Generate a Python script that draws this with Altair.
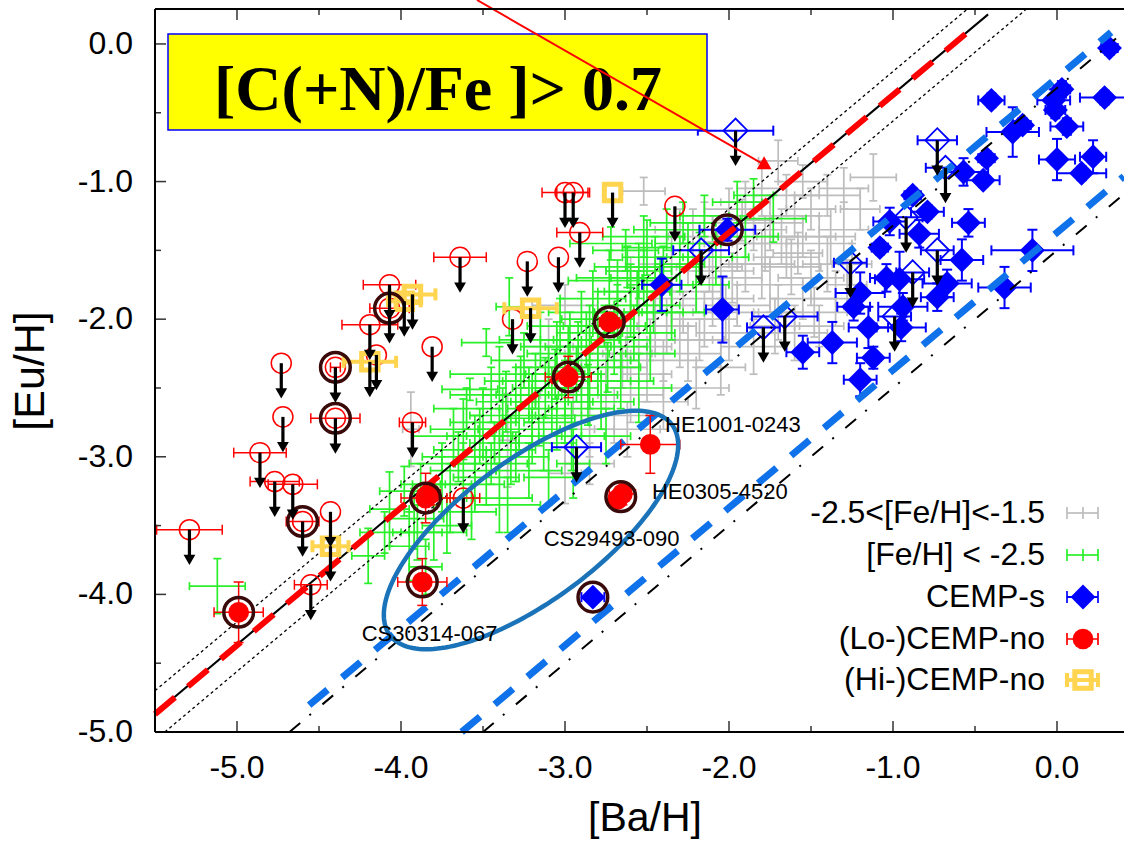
import altair as alt
import pandas as pd
import numpy as np

# ---------------- data ----------------
# (x=[Ba/H], y=[Eu/H], xerr, yerr)
GRAY_POINTS = [
    (-1.12, -0.97, 0.14, 0.17), (-1.55, -1.00, 0.15, 0.12), (-1.70, -0.85, 0.12, 0.15),
    (-1.40, -1.10, 0.20, 0.15), (-1.30, -1.35, 0.15, 0.20), (-1.25, -1.60, 0.12, 0.15),
    (-1.45, -1.45, 0.20, 0.20), (-1.60, -1.25, 0.15, 0.15), (-1.50, -1.70, 0.20, 0.20),
    (-1.35, -1.85, 0.15, 0.20), (-1.65, -1.55, 0.20, 0.15), (-1.80, -1.05, 0.15, 0.20),
    (-1.85, -1.35, 0.20, 0.15), (-1.75, -1.75, 0.20, 0.20), (-1.90, -1.60, 0.15, 0.20),
    (-1.95, -1.90, 0.20, 0.15), (-2.00, -1.20, 0.15, 0.15), (-2.05, -1.65, 0.20, 0.20),
    (-2.10, -1.45, 0.15, 0.20), (-2.15, -2.00, 0.20, 0.20), (-2.20, -1.80, 0.15, 0.15),
    (-2.25, -1.55, 0.20, 0.20), (-2.30, -2.15, 0.20, 0.20), (-2.35, -1.90, 0.15, 0.20),
    (-2.40, -2.30, 0.20, 0.15), (-2.45, -2.05, 0.20, 0.20), (-2.50, -2.40, 0.15, 0.20),
    (-2.55, -2.20, 0.20, 0.15), (-2.60, -2.55, 0.20, 0.20), (-2.65, -2.35, 0.15, 0.15),
    (-2.70, -2.70, 0.20, 0.20), (-2.75, -2.45, 0.20, 0.20), (-2.85, -2.80, 0.15, 0.20),
    (-2.95, -2.55, 0.20, 0.15), (-3.00, -3.12, 0.10, 0.22), (-3.35, -2.88, 0.05, 0.34),
    (-3.94, -2.80, 0.05, 0.27), (-2.52, -1.07, 0.13, 0.10), (-1.60, -2.10, 0.20, 0.20),
    (-1.45, -2.05, 0.15, 0.15), (-1.85, -2.20, 0.20, 0.20), (-2.05, -2.35, 0.15, 0.20),
    (-2.20, -2.50, 0.20, 0.15), (-1.70, -1.95, 0.15, 0.20), (-1.55, -1.40, 0.20, 0.15),
    (-1.40, -1.60, 0.15, 0.20), (-1.20, -1.20, 0.12, 0.15), (-1.95, -1.45, 0.20, 0.20),
    (-2.15, -1.30, 0.15, 0.15), (-2.35, -1.60, 0.20, 0.20), (-2.45, -1.80, 0.15, 0.20),
    (-2.55, -1.95, 0.20, 0.15), (-2.70, -2.10, 0.15, 0.20), (-2.80, -2.25, 0.20, 0.20),
    (-2.90, -2.40, 0.15, 0.15), (-3.10, -2.20, 0.15, 0.20), (-3.00, -1.90, 0.20, 0.15),
    (-1.75, -1.30, 0.20, 0.20), (-1.90, -1.15, 0.15, 0.15), (-2.00, -2.10, 0.20, 0.20),
    (-2.25, -2.25, 0.20, 0.20), (-1.50, -1.20, 0.15, 0.15), (-1.65, -1.10, 0.20, 0.15),
    (-1.30, -1.05, 0.15, 0.15), (-2.40, -2.60, 0.15, 0.20), (-2.62, -2.80, 0.20, 0.20),
    (-2.10, -1.85, 0.25, 0.20), (-1.80, -1.60, 0.20, 0.25), (-2.30, -1.35, 0.15, 0.15),
    (-1.55, -1.85, 0.20, 0.15), (-2.60, -1.65, 0.15, 0.10), (-2.85, -3.05, 0.15, 0.15),
    (-1.98, -1.70, 0.18, 0.18), (-2.18, -2.15, 0.15, 0.15), (-2.48, -2.15, 0.15, 0.15),
    (-1.68, -1.40, 0.15, 0.20), (-2.28, -1.95, 0.18, 0.15), (-2.62, -2.25, 0.15, 0.20),
    (-1.62, -1.62, 0.18, 0.20), (-1.48, -1.95, 0.20, 0.18), (-1.38, -1.40, 0.15, 0.20),
    (-1.92, -1.28, 0.18, 0.15), (-2.12, -1.62, 0.20, 0.18), (-2.22, -1.40, 0.15, 0.20),
    (-1.78, -1.45, 0.20, 0.20), (-1.58, -1.52, 0.15, 0.15), (-2.02, -1.95, 0.20, 0.20),
    (-2.38, -2.05, 0.18, 0.20), (-1.72, -2.05, 0.15, 0.20), (-1.28, -1.75, 0.12, 0.18),
]

GREEN_POINTS = [
    (-5.12, -3.94, 0.17, 0.20), (-4.07, -3.38, 0.12, 0.27), (-4.20, -3.72, 0.10, 0.20),
    (-3.95, -3.65, 0.12, 0.25), (-3.98, -3.25, 0.15, 0.18), (-3.92, -3.45, 0.18, 0.22),
    (-4.10, -3.55, 0.15, 0.15), (-3.85, -3.80, 0.10, 0.20), (-3.88, -3.20, 0.12, 0.15),
    (-3.80, -3.55, 0.20, 0.20), (-3.75, -3.05, 0.20, 0.15), (-3.70, -3.30, 0.15, 0.25),
    (-3.68, -2.85, 0.25, 0.20), (-3.62, -3.10, 0.20, 0.20), (-3.60, -2.65, 0.20, 0.15),
    (-3.57, -3.40, 0.15, 0.20), (-3.55, -2.95, 0.25, 0.25), (-3.48, -2.17, 0.15, 0.10),
    (-3.58, -2.51, 0.17, 0.08), (-3.50, -2.75, 0.20, 0.25), (-3.48, -3.15, 0.20, 0.20),
    (-3.45, -2.55, 0.25, 0.20), (-3.43, -2.90, 0.15, 0.15), (-3.40, -3.30, 0.20, 0.25),
    (-3.40, -2.40, 0.30, 0.20), (-3.38, -2.70, 0.20, 0.20), (-3.34, -1.91, 0.08, 0.21),
    (-3.33, -2.95, 0.15, 0.25), (-3.30, -2.55, 0.20, 0.20), (-3.28, -2.80, 0.25, 0.15),
    (-3.25, -2.30, 0.20, 0.20), (-3.22, -3.10, 0.20, 0.20), (-3.20, -2.65, 0.15, 0.25),
    (-3.18, -2.45, 0.20, 0.20), (-3.15, -2.15, 0.25, 0.20), (-3.13, -2.90, 0.20, 0.20),
    (-3.10, -2.35, 0.20, 0.15), (-3.10, -3.15, 0.15, 0.20), (-3.08, -2.60, 0.25, 0.25),
    (-3.05, -2.75, 0.20, 0.20), (-3.03, -2.05, 0.20, 0.20), (-3.00, -2.50, 0.20, 0.20),
    (-2.98, -2.25, 0.25, 0.20), (-2.96, -2.85, 0.20, 0.25), (-2.95, -3.05, 0.10, 0.25),
    (-2.93, -2.40, 0.15, 0.20), (-2.90, -1.95, 0.20, 0.15), (-2.90, -2.65, 0.20, 0.20),
    (-2.87, -2.15, 0.20, 0.20), (-2.85, -2.45, 0.25, 0.20), (-2.83, -1.85, 0.20, 0.20),
    (-2.80, -2.30, 0.20, 0.25), (-2.78, -2.60, 0.20, 0.20), (-2.76, -2.05, 0.25, 0.15),
    (-2.75, -2.85, 0.15, 0.20), (-2.73, -1.70, 0.20, 0.20), (-2.72, -1.45, 0.25, 0.12),
    (-2.70, -2.20, 0.20, 0.20), (-2.68, -1.95, 0.15, 0.20), (-2.68, -1.72, 0.30, 0.15),
    (-2.66, -2.45, 0.20, 0.20), (-2.63, -1.50, 0.20, 0.15), (-2.62, -1.62, 0.20, 0.15),
    (-2.60, -1.80, 0.20, 0.20), (-2.58, -2.10, 0.25, 0.20), (-2.55, -1.65, 0.20, 0.20),
    (-2.55, -2.50, 0.20, 0.25), (-2.52, -1.40, 0.25, 0.15), (-2.50, -1.90, 0.20, 0.20),
    (-2.50, -1.48, 0.15, 0.20), (-2.48, -2.25, 0.15, 0.20), (-2.45, -1.55, 0.20, 0.15),
    (-2.42, -1.75, 0.20, 0.20), (-2.38, -1.35, 0.20, 0.15), (-2.35, -1.95, 0.20, 0.20),
    (-2.30, -1.60, 0.15, 0.20), (-2.25, -1.45, 0.20, 0.15), (-2.20, -1.75, 0.20, 0.20),
    (-2.15, -1.25, 0.15, 0.15), (-2.08, -1.55, 0.20, 0.20), (-1.95, -1.15, 0.15, 0.15),
    (-1.90, -1.40, 0.20, 0.15), (-1.85, -1.10, 0.12, 0.12), (-1.73, -1.27, 0.20, 0.17),
    (-3.35, -3.35, 0.20, 0.20), (-3.65, -3.00, 0.22, 0.18), (-3.52, -2.85, 0.20, 0.20),
    (-3.45, -3.05, 0.22, 0.15), (-3.36, -2.60, 0.18, 0.22), (-3.27, -2.45, 0.22, 0.18),
    (-3.20, -2.85, 0.18, 0.20), (-3.12, -2.50, 0.20, 0.22), (-3.06, -2.40, 0.18, 0.18),
    (-3.00, -2.70, 0.22, 0.20), (-2.92, -2.20, 0.20, 0.18), (-2.86, -2.55, 0.18, 0.22),
    (-2.80, -2.00, 0.22, 0.20), (-2.74, -2.35, 0.20, 0.18), (-2.66, -2.15, 0.18, 0.20),
    (-2.60, -1.95, 0.22, 0.18), (-2.52, -1.70, 0.20, 0.20), (-2.46, -1.95, 0.18, 0.15),
    (-3.55, -3.20, 0.18, 0.20), (-3.72, -3.50, 0.15, 0.20), (-3.62, -2.80, 0.20, 0.22),
    (-3.30, -3.00, 0.20, 0.18), (-3.16, -2.72, 0.22, 0.20), (-2.97, -2.15, 0.18, 0.20),
    (-2.40, -1.62, 0.22, 0.15), (-2.28, -1.30, 0.20, 0.15), (-2.18, -1.55, 0.20, 0.18),
    (-2.56, -1.80, 0.20, 0.15), (-3.05, -2.20, 0.22, 0.18), (-3.40, -2.85, 0.20, 0.20),
    (-3.75, -3.20, 0.18, 0.20), (-3.90, -3.55, 0.15, 0.20), (-2.85, -2.10, 0.20, 0.20),
    (-3.22, -2.55, 0.20, 0.20),
]

BLUE_FILLED = [
    (0.32, -0.03, 0.05, 0.05), (-0.40, -0.41, 0.08, 0.05), (0.03, -0.33, 0.05, 0.06),
    (-0.02, -0.41, 0.10, 0.08), (-0.01, -0.48, 0.06, 0.06), (0.29, -0.39, 0.15, 0.05),
    (0.06, -0.60, 0.10, 0.06), (-0.27, -0.64, 0.16, 0.18), (-0.21, -0.59, 0.05, 0.05),
    (0.00, -0.84, 0.11, 0.15), (0.22, -0.82, 0.08, 0.12), (0.15, -0.94, 0.15, 0.05),
    (-0.57, -0.93, 0.15, 0.10), (-0.43, -0.83, 0.05, 0.05), (-0.45, -0.99, 0.10, 0.05),
    (-0.79, -1.22, 0.10, 0.05), (-0.88, -1.10, 0.05, 0.05), (-1.02, -1.29, 0.10, 0.10),
    (-0.84, -1.38, 0.12, 0.10), (-0.54, -1.30, 0.10, 0.10), (-0.58, -1.57, 0.13, 0.15),
    (-1.08, -1.48, 0.05, 0.05), (-0.96, -1.71, 0.15, 0.20), (-1.04, -1.70, 0.10, 0.10),
    (-0.67, -1.74, 0.15, 0.10), (-0.73, -1.84, 0.10, 0.10), (-1.20, -1.81, 0.15, 0.15),
    (-0.15, -1.50, 0.25, 0.15), (-0.32, -1.77, 0.16, 0.15), (-1.24, -1.91, 0.10, 0.10),
    (-0.94, -1.91, 0.15, 0.10), (-0.95, -2.06, 0.15, 0.10), (-1.15, -2.06, 0.12, 0.15),
    (-1.37, -2.17, 0.15, 0.15), (-1.55, -2.24, 0.10, 0.12), (-1.12, -2.28, 0.10, 0.08),
    (-1.20, -2.44, 0.10, 0.12), (-2.01, -1.35, 0.17, 0.08), (-2.41, -1.75, 0.12, 0.19),
    (-2.04, -1.93, 0.10, 0.24), (-2.83, -4.02, 0.07, 0.03),
]

BLUE_LIMITS = [  # open diamonds, upper limits (x, y, xerr)
    (-1.96, -0.63, 0.23), (-0.73, -0.70, 0.12), (-0.68, -0.90, 0.12), (-0.92, -1.26, 0.10),
    (-0.73, -1.50, 0.10), (-0.88, -1.66, 0.10), (-1.26, -1.59, 0.10), (-1.66, -1.98, 0.20),
    (-1.79, -2.06, 0.10), (-0.99, -1.98, 0.10), (-2.17, -1.50, 0.17), (-2.93, -2.93, 0.15),
]

RED_LIMITS = [  # open red circles, upper limits (x, y, xerr)
    (-5.29, -3.53, 0.20), (-4.86, -2.97, 0.16), (-4.73, -2.32, 0.0), (-4.72, -2.71, 0.0),
    (-4.77, -3.18, 0.15), (-4.66, -3.20, 0.15), (-4.60, -3.47, 0.10), (-4.43, -3.40, 0.0),
    (-4.55, -3.93, 0.10), (-4.40, -2.72, 0.15), (-4.40, -2.35, 0.03), (-4.19, -2.04, 0.17),
    (-4.15, -2.26, 0.0), (-4.07, -1.75, 0.16), (-4.07, -1.92, 0.12), (-3.81, -2.20, 0.0),
    (-3.93, -2.75, 0.08), (-3.64, -1.55, 0.16), (-3.62, -3.30, 0.10), (-3.23, -1.58, 0.0),
    (-3.04, -1.55, 0.0), (-3.00, -1.08, 0.14), (-2.95, -1.08, 0.10), (-2.91, -1.37, 0.14),
    (-2.33, -1.18, 0.0), (-3.32, -2.00, 0.0),
]

RED_FILLED = [
    (-4.99, -4.13, 0.15, 0.22), (-3.87, -3.91, 0.15, 0.17), (-3.85, -3.30, 0.15, 0.18),
    (-3.82, -3.27, 0.06, 0.08), (-2.98, -2.42, 0.14, 0.15), (-2.73, -2.02, 0.06, 0.06),
    (-2.48, -2.91, 0.18, 0.21), (-2.65, -3.27, 0.08, 0.08), (-2.68, -3.31, 0.05, 0.05),
]

YELLOW_LIMITS = [  # (Hi-)CEMP-no, upper limits (x, y, xerr)
    (-2.71, -1.08, 0.0), (-3.93, -1.82, 0.14), (-3.98, -1.87, 0.10),
    (-3.21, -1.92, 0.16), (-4.19, -2.31, 0.16), (-4.43, -3.65, 0.11),
]

RINGS_X = [-4.99, -3.87, -3.85, -2.98, -2.73, -2.66, -2.01, -2.83, -4.60, -4.40, -4.40, -4.07]
RINGS_Y = [-4.13, -3.91, -3.30, -2.42, -2.02, -3.29, -1.35, -4.02, -3.47, -2.72, -2.35, -1.92]

STAR_NAMES = ["HE1001-0243", "HE0305-4520", "CS29493-090", "CS30314-067"]
STAR_LABEL_X = [-2.39, -2.47, -3.13, -4.24]
STAR_LABEL_Y = [-2.82, -3.31, -3.65, -4.34]

# reference lines: (x_start, y_start, x_end, y_end)
LINE_SOLID = (-5.50, -4.865, -0.42, 0.215)
LINE_RED = (-5.50, -4.870, -0.55, 0.080)
DOT_UPPER = (-5.50, -4.700, -0.546, 0.254)
DOT_LOWER = (-5.44, -5.000, -0.186, 0.254)
BLUE_1 = (-4.56, -4.805, 0.33, 0.085)
DASHDOT_1 = (-4.68, -5.000, 0.36, 0.040)
BLUE_2 = (-3.63, -5.000, 0.408, -0.962)
DASHDOT_2 = (-3.50, -5.000, 0.408, -1.092)

LEGEND_LABELS = ["-2.5<[Fe/H]<-1.5", "[Fe/H] < -2.5", "CEMP-s", "(Lo-)CEMP-no", "(Hi-)CEMP-no"]
X_TICKS = [-5, -4, -3, -2, -1, 0]
X_TICK_LABELS = ["-5.0", "-4.0", "-3.0", "-2.0", "-1.0", "0.0"]
X_MINOR = [-4.5, -3.5, -2.5, -1.5, -0.5]
Y_TICKS = [-5, -4, -3, -2, -1, 0]
Y_TICK_LABELS = ["-5.0", "-4.0", "-3.0", "-2.0", "-1.0", "0.0"]
Y_MINOR = [-4.5, -3.5, -2.5, -1.5, -0.5]
X_TITLE = "[Ba/H]"
Y_TITLE = "[Eu/H]"

# ---------------- layout ----------------
W, H = 969, 723
X0, X1 = -5.5, -5.5 + 969 / 164
Y0, Y1 = -5.0, 0.254
PXX = W / (X1 - X0)
PXY = H / (Y1 - Y0)
XS = alt.Scale(domain=[X0, X1], nice=False, zero=False)
YS = alt.Scale(domain=[Y0, Y1], nice=False, zero=False)

GRAY = "#bdbdbd"
GREEN = "#2af02a"
BLUE = "#0000ff"
RED = "#ff0000"
YELLOW = "#ffd44f"
RING = "#3a0a0a"
LBLUE = "#0f72ea"
FONT = "Liberation Sans"


def px2x(p):
    return X0 + p / PXX


def py2y(p):
    return Y1 - p / PXY


def X(f):
    return alt.X(f, type="quantitative", scale=XS, axis=None)


def Y(f):
    return alt.Y(f, type="quantitative", scale=YS, axis=None)


def frame(rows, with_ey=True):
    if with_ey:
        df = pd.DataFrame(rows, columns=["x", "y", "ex", "ey"])
    else:
        df = pd.DataFrame(rows, columns=["x", "y", "ex"])
        df["ey"] = 0.0
    df["xlo"] = df["x"] - df["ex"]
    df["xhi"] = df["x"] + df["ex"]
    df["ylo"] = df["y"] - df["ey"]
    df["yhi"] = df["y"] + df["ey"]
    return df


def errbars(df, color, width, cap, capw=None):
    capw = capw or width
    out = []
    h = df[df["ex"] > 0]
    v = df[df["ey"] > 0]
    if len(h):
        out.append(alt.Chart(h).mark_rule(color=color, strokeWidth=width).encode(
            x=X("xlo"), x2="xhi", y=Y("y")))
        for f in ("xlo", "xhi"):
            out.append(alt.Chart(h).mark_tick(orient="vertical", size=cap, thickness=capw,
                                              color=color, opacity=1).encode(x=X(f), y=Y("y")))
    if len(v):
        out.append(alt.Chart(v).mark_rule(color=color, strokeWidth=width).encode(
            x=X("x"), y=Y("ylo"), y2="yhi"))
        for f in ("ylo", "yhi"):
            out.append(alt.Chart(v).mark_tick(orient="horizontal", size=cap, thickness=capw,
                                              color=color, opacity=1).encode(x=X("x"), y=Y(f)))
    return out


def seg(line):
    return pd.DataFrame({"x": [line[0]], "y": [line[1]], "x2": [line[2]], "y2": [line[3]]})


def rule_line(line, **kw):
    return alt.Chart(seg(line)).mark_rule(**kw).encode(x=X("x"), y=Y("y"), x2="x2", y2="y2")


layers = []

gray = frame(GRAY_POINTS)
green = frame(GREEN_POINTS)
bfill = frame(BLUE_FILLED)
blim = frame(BLUE_LIMITS, with_ey=False)
rlim = frame(RED_LIMITS, with_ey=False)
rfill = frame(RED_FILLED)
ylim = frame(YELLOW_LIMITS, with_ey=False)

layers += errbars(gray, GRAY, 1.7, 8)
layers += errbars(green, GREEN, 1.7, 8)
layers += errbars(bfill, BLUE, 2, 10)
layers += errbars(blim, BLUE, 2, 10)
layers.append(alt.Chart(bfill).mark_point(shape="diamond", filled=True, size=620, color=BLUE,
                                          opacity=1).encode(x=X("x"), y=Y("y")))
layers.append(alt.Chart(blim).mark_point(shape="diamond", filled=False, size=580, color=BLUE,
                                         strokeWidth=1.8, opacity=1).encode(x=X("x"), y=Y("y")))

# reference lines
layers.append(rule_line(DOT_UPPER, color="black", strokeWidth=1.3, strokeDash=[3, 3]))
layers.append(rule_line(DOT_LOWER, color="black", strokeWidth=1.3, strokeDash=[3, 3]))
layers.append(rule_line(LINE_SOLID, color="black", strokeWidth=2))
layers.append(rule_line(LINE_RED, color=RED, strokeWidth=6, strokeDash=[26, 17]))
layers.append(rule_line(DASHDOT_1, color="black", strokeWidth=2, strokeDash=[14, 12, 2, 15]))
layers.append(rule_line(DASHDOT_2, color="black", strokeWidth=2, strokeDash=[14, 12, 2, 15]))
layers.append(rule_line(BLUE_1, color=LBLUE, strokeWidth=7, strokeDash=[24, 19]))
layers.append(rule_line(BLUE_2, color=LBLUE, strokeWidth=7, strokeDash=[24, 19]))

# red
layers += errbars(rlim, RED, 1.5, 10)
layers += errbars(rfill, RED, 1.5, 10)
layers.append(alt.Chart(rlim).mark_point(shape="circle", filled=False, size=400, color=RED,
                                         strokeWidth=1.5, opacity=1).encode(x=X("x"), y=Y("y")))
layers.append(alt.Chart(rfill).mark_point(shape="circle", filled=True, size=430, color=RED,
                                          opacity=1).encode(x=X("x"), y=Y("y")))
# yellow
layers += errbars(ylim, YELLOW, 4, 12, 4)
layers.append(alt.Chart(ylim).mark_point(shape="square", filled=False, size=270, color=YELLOW,
                                         strokeWidth=5, opacity=1).encode(x=X("x"), y=Y("y")))
# rings
layers.append(alt.Chart(pd.DataFrame({"x": RINGS_X, "y": RINGS_Y})).mark_point(
    shape="circle", filled=False, size=880, color=RING, strokeWidth=3.5, opacity=1).encode(
    x=X("x"), y=Y("y")))

# upper-limit arrows
lim = pd.concat([rlim[["x", "y"]], blim[["x", "y"]], ylim[["x", "y"]]], ignore_index=True)
lim["yend"] = lim["y"] - 0.19
lim["yhead"] = lim["y"] - 0.22
layers.append(alt.Chart(lim).mark_rule(color="black", strokeWidth=3.2).encode(
    x=X("x"), y=Y("y"), y2="yend"))
layers.append(alt.Chart(lim).mark_point(shape="triangle-down", filled=True, size=140,
                                        color="black", opacity=1).encode(x=X("x"), y=Y("yhead")))

# ellipse (annotation) in pixel geometry, converted to data units
t = np.linspace(0, 2 * np.pi, 181)
ang = np.deg2rad(36.7)
cx, cy, a, b = 531 - 155, 530 - 9, 176, 70
epx = cx + a * np.cos(t) * np.cos(ang) + b * np.sin(t) * np.sin(ang)
epy = cy - a * np.cos(t) * np.sin(ang) + b * np.sin(t) * np.cos(ang)
ell = pd.DataFrame({"x": px2x(epx), "y": py2y(epy), "i": np.arange(len(t))})
layers.append(alt.Chart(ell).mark_line(color="#1a72b8", strokeWidth=4.5).encode(
    x=X("x"), y=Y("y"), order="i:Q"))

# star labels
layers.append(alt.Chart(pd.DataFrame({"x": STAR_LABEL_X, "y": STAR_LABEL_Y, "t": STAR_NAMES}))
              .mark_text(align="left", baseline="alphabetic", font=FONT, fontSize=22, color="black")
              .encode(x=X("x"), y=Y("y"), text="t:N"))

# yellow annotation box
layers.append(alt.Chart(pd.DataFrame({"a": [0]})).mark_rect(
    fill="#ffff00", stroke="#0000ff", strokeWidth=1.5).encode(
    x=alt.value(13), x2=alt.value(552), y=alt.value(25), y2=alt.value(121)))
layers.append(alt.Chart(pd.DataFrame({"t": ["[C(+N)/Fe ]> 0.7"]})).mark_text(
    align="center", baseline="alphabetic", font="Liberation Serif", fontWeight="bold",
    fontSize=64, color="black").encode(x=alt.value(283), y=alt.value(101), text="t:N"))
# red pointer arrow
layers.append(alt.Chart(pd.DataFrame({"a": [0]})).mark_rule(color=RED, strokeWidth=2).encode(
    x=alt.value(322), y=alt.value(-9), x2=alt.value(613), y2=alt.value(158)))
layers.append(alt.Chart(pd.DataFrame({"a": [0]})).mark_point(
    shape="triangle-right", angle=30, filled=True, size=220, color=RED, opacity=1).encode(
    x=alt.value(611), y=alt.value(157)))

# legend (placed in data units converted from pixel layout)
LEG_TEXT_PX = [514, 556, 598, 640, 681]
LEG_SYM_PX = [504, 546, 588, 630, 671]
leg = pd.DataFrame({
    "label": LEGEND_LABELS,
    "ty": [py2y(p) for p in LEG_TEXT_PX],
    "sy": [py2y(p) for p in LEG_SYM_PX],
    "col": [GRAY, GREEN, BLUE, RED, YELLOW],
    "lw": [1.7, 1.7, 2, 1.5, 4],
})
leg["xl"] = px2x(912)
leg["xr"] = px2x(943)
leg["xc"] = px2x(928)
leg["xt"] = px2x(890)
layers.append(alt.Chart(leg).mark_text(align="right", baseline="alphabetic", font=FONT,
                                       fontSize=32, color="black").encode(
    x=X("xt"), y=Y("ty"), text="label:N"))
layers.append(alt.Chart(leg).mark_rule().encode(
    x=X("xl"), x2="xr", y=Y("sy"),
    color=alt.Color("col:N", scale=None), strokeWidth=alt.StrokeWidth("lw:Q", scale=None)))
for f in ("xl", "xr"):
    layers.append(alt.Chart(leg.iloc[:4]).mark_tick(orient="vertical", size=12, thickness=1.7,
                                                    opacity=1).encode(
        x=X(f), y=Y("sy"), color=alt.Color("col:N", scale=None)))
    layers.append(alt.Chart(leg.iloc[4:]).mark_tick(orient="vertical", size=14, thickness=4,
                                                    opacity=1).encode(
        x=X(f), y=Y("sy"), color=alt.Color("col:N", scale=None)))
layers.append(alt.Chart(leg.iloc[:2]).mark_tick(orient="vertical", size=12, thickness=1.7,
                                                opacity=1).encode(
    x=X("xc"), y=Y("sy"), color=alt.Color("col:N", scale=None)))
layers.append(alt.Chart(leg.iloc[2:3]).mark_point(shape="diamond", filled=True, size=620,
                                                  color=BLUE, opacity=1).encode(
    x=X("xc"), y=Y("sy")))
layers.append(alt.Chart(leg.iloc[3:4]).mark_point(shape="circle", filled=True, size=430,
                                                  color=RED, opacity=1).encode(
    x=X("xc"), y=Y("sy")))
layers.append(alt.Chart(leg.iloc[4:5]).mark_point(shape="square", filled=False, size=270,
                                                  color=YELLOW, strokeWidth=5, opacity=1).encode(
    x=X("xc"), y=Y("sy")))

# frame: inward ticks, border lines, tick labels and titles
TCOL = "#333333"
for vals, ln in ((X_TICKS, 11), (X_MINOR, 6)):
    d = pd.DataFrame({"t": vals})
    layers.append(alt.Chart(d).mark_rule(color=TCOL, strokeWidth=1.5).encode(
        x=X("t"), y=alt.value(H), y2=alt.value(H - ln)))
    layers.append(alt.Chart(d).mark_rule(color=TCOL, strokeWidth=1.5).encode(
        x=X("t"), y=alt.value(0), y2=alt.value(ln)))
for vals, ln in ((Y_TICKS, 11), (Y_MINOR, 6)):
    d = pd.DataFrame({"t": vals})
    layers.append(alt.Chart(d).mark_rule(color=TCOL, strokeWidth=1.5).encode(
        y=Y("t"), x=alt.value(0), x2=alt.value(ln)))
one = pd.DataFrame({"a": [0]})
layers.append(alt.Chart(one).mark_rule(color="black", strokeWidth=2).encode(
    x=alt.value(0), x2=alt.value(W), y=alt.value(0)))
layers.append(alt.Chart(one).mark_rule(color="black", strokeWidth=2).encode(
    x=alt.value(0), x2=alt.value(W), y=alt.value(H)))
layers.append(alt.Chart(one).mark_rule(color="black", strokeWidth=2).encode(
    x=alt.value(0), y=alt.value(0), y2=alt.value(H)))

layers.append(alt.Chart(pd.DataFrame({"t": X_TICKS, "s": X_TICK_LABELS})).mark_text(
    align="center", baseline="alphabetic", font=FONT, fontSize=32, color="black").encode(
    x=X("t"), y=alt.value(H + 46), text="s:N"))
layers.append(alt.Chart(pd.DataFrame({"t": Y_TICKS, "s": Y_TICK_LABELS})).mark_text(
    align="right", baseline="middle", font=FONT, fontSize=32, color="black").encode(
    y=Y("t"), x=alt.value(-22), text="s:N"))
layers.append(alt.Chart(pd.DataFrame({"s": [X_TITLE]})).mark_text(
    align="center", baseline="alphabetic", font=FONT, fontSize=41, color="black").encode(
    x=alt.value(490), y=alt.value(822), text="s:N"))
layers.append(alt.Chart(pd.DataFrame({"s": [Y_TITLE]})).mark_text(
    align="center", baseline="alphabetic", font=FONT, fontSize=43, color="black",
    angle=270).encode(x=alt.value(-111), y=alt.value(362), text="s:N"))

chart = alt.layer(*layers).properties(
    width=W, height=H,
    padding={"left": 155, "top": 9, "right": 0, "bottom": 109},
    autosize=alt.AutoSizeParams(type="none"),
    background="white",
).configure_view(strokeWidth=0)

chart.save("out.html", embed_options={"renderer": "svg", "actions": False})
